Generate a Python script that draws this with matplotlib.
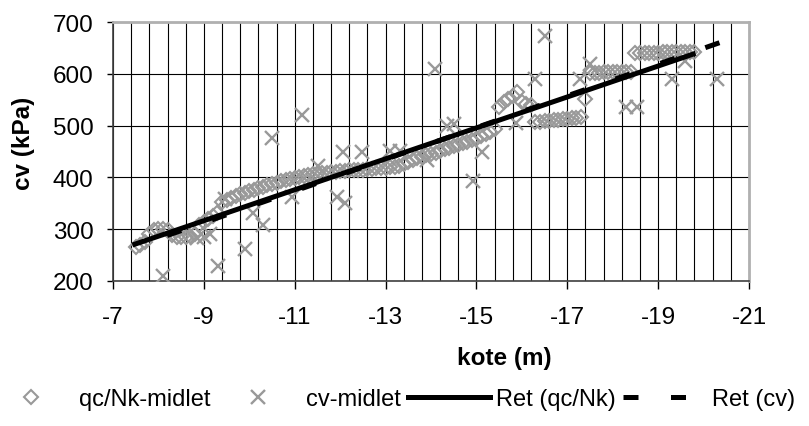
import matplotlib
matplotlib.use("Agg")
import matplotlib.pyplot as plt
from matplotlib.ticker import MultipleLocator

plt.rcParams['font.family'] = ['Liberation Sans', 'DejaVu Sans']

# qc/Nk-midlet (kote in m, cv in kPa)
kote_qc = [-7.5, -7.6, -7.7, -7.8, -7.9, -8.0, -8.1, -8.2, -8.3, -8.4,
           -8.5, -8.6, -8.7, -8.8, -8.9, -9.0, -9.1, -9.2, -9.3, -9.4,
           -9.5, -9.6, -9.7, -9.8, -9.9, -10.0, -10.1, -10.2, -10.3, -10.4,
           -10.5, -10.6, -10.7, -10.8, -10.9, -11.0, -11.1, -11.2, -11.3, -11.4,
           -11.5, -11.6, -11.7, -11.8, -11.9, -12.0, -12.1, -12.2, -12.3, -12.4,
           -12.5, -12.6, -12.7, -12.8, -12.9, -13.0, -13.1, -13.2, -13.3, -13.4,
           -13.5, -13.6, -13.7, -13.8, -13.9, -14.0, -14.1, -14.2, -14.3, -14.4,
           -14.5, -14.6, -14.7, -14.8, -14.9, -15.0, -15.1, -15.2, -15.3, -15.4,
           -15.5, -15.6, -15.7, -15.8, -15.9, -16.0, -16.1, -16.2, -16.3, -16.4,
           -16.5, -16.6, -16.7, -16.8, -16.9, -17.0, -17.1, -17.2, -17.3, -17.4,
           -17.5, -17.6, -17.7, -17.8, -17.9, -18.0, -18.1, -18.2, -18.3, -18.4,
           -18.5, -18.6, -18.7, -18.8, -18.9, -19.0, -19.1, -19.2, -19.3, -19.4,
           -19.5, -19.6, -19.7, -19.8]
cv_qc = [266, 270, 276, 290, 298, 300, 301, 299, 288, 285,
         284, 285, 286, 290, 308, 314, 320, 325, 331, 352,
         357, 361, 364, 367, 370, 373, 376, 379, 382, 385,
         388, 390, 393, 395, 397, 399, 401, 403, 405, 406,
         407, 408, 409, 410, 411, 412, 413, 414, 414, 415,
         415, 416, 417, 418, 418, 419, 420, 421, 422, 425,
         429, 433, 437, 440, 443, 446, 448, 451, 454, 457,
         460, 463, 466, 469, 472, 475, 479, 483, 488, 493,
         536, 545, 552, 558, 564, 545, 542, 540, 506, 507,
         508, 509, 510, 511, 512, 513, 514, 515, 516, 551,
         602, 602, 602, 603, 603, 603, 603, 604, 604, 604,
         640, 640, 641, 641, 641, 641, 642, 642, 642, 642,
         642, 642, 642, 642]

# cv-midlet
kote_cv = [-8.1, -8.85, -9.0, -9.14, -9.31, -9.47, -9.9, -10.08, -10.3, -10.5,
           -10.94, -11.15, -11.51, -11.93, -12.1, -12.06, -12.48, -13.1, -13.32, -13.91,
           -14.09, -14.35, -14.5, -14.92, -15.12, -15.87, -16.29, -16.51, -17.28, -17.5,
           -18.3, -18.53, -19.3, -19.6, -20.3]
cv_cv = [210, 283, 285, 291, 229, 358, 262, 331, 308, 476,
         363, 520, 422, 362, 350, 449, 449, 451, 451, 434,
         609, 499, 503, 393, 449, 505, 590, 673, 590, 619,
         536, 536, 590, 625, 590]

# trend lines (end points)
ret_qc_x = [-7.48, -19.77]
ret_qc_y = [271, 638]
ret_cv_x = [-20.35, -8.1]
ret_cv_y = [660, 285]

grey = "#999999"

fig = plt.figure(figsize=(8.09, 4.27), dpi=100)
ax = fig.add_axes([113 / 809, 1 - 282 / 427, 636 / 809, 259 / 427])

ax.plot(kote_qc, cv_qc, linestyle="none", marker="D", markersize=7,
        markerfacecolor="none", markeredgecolor=grey, markeredgewidth=1.5,
        label="qc/Nk-midlet", zorder=3)
ax.plot(kote_cv, cv_cv, linestyle="none", marker="x", markersize=10,
        markeredgecolor=grey, markeredgewidth=1.7, label="cv-midlet", zorder=3)
ax.plot(ret_qc_x, ret_qc_y, color="black", linewidth=3.6,
        label="Ret (qc/Nk)", zorder=4)
ax.plot(ret_cv_x, ret_cv_y, color="black", linewidth=3.6,
        dashes=(3.0, 6.5), label="Ret (cv)", zorder=4)

ax.set_xlim(-7, -21)
ax.set_ylim(200, 700)
ax.set_xticks([-7, -9, -11, -13, -15, -17, -19, -21])
ax.set_xticklabels(["-7", "-9", "-11", "-13", "-15", "-17", "-19", "-21"])
ax.set_yticks([200, 300, 400, 500, 600, 700])
ax.xaxis.set_minor_locator(MultipleLocator(0.4, offset=0.2))

ax.grid(True, which="both", axis="x", color="black", linewidth=0.8)
ax.grid(True, which="major", axis="y", color="black", linewidth=0.8)
ax.set_axisbelow(True)

ax.tick_params(axis="x", which="major", direction="out", length=6, width=1,
               pad=12, labelsize=17.5)
ax.tick_params(axis="x", which="minor", length=0)
ax.tick_params(axis="y", direction="out", length=4, width=1, pad=10,
               labelsize=17.5)

for side in ["left", "bottom"]:
    ax.spines[side].set_color("#404040")
    ax.spines[side].set_linewidth(1.2)
for side in ["top", "right"]:
    ax.spines[side].set_color("#b0b0b0")
    ax.spines[side].set_linewidth(2)

ax.set_xlabel("kote (m)", fontsize=17.5, fontweight="bold")
ax.xaxis.set_label_coords((504 - 113) / 636, -0.297)
ax.xaxis.label.set_va("center")
ax.set_ylabel("cv (kPa)", fontsize=17.5, fontweight="bold")
ax.yaxis.set_label_coords(-0.14, 0.537)
ax.yaxis.label.set_va("center")

fig.legend(loc="center left", bbox_to_anchor=(-10 / 809, 1 - 400 / 427),
           ncol=4, frameon=False, fontsize=17, handlelength=3.5,
           handletextpad=0.25, columnspacing=0.3, borderpad=0,
           borderaxespad=0, numpoints=1)

plt.savefig("out.png", dpi=100)
